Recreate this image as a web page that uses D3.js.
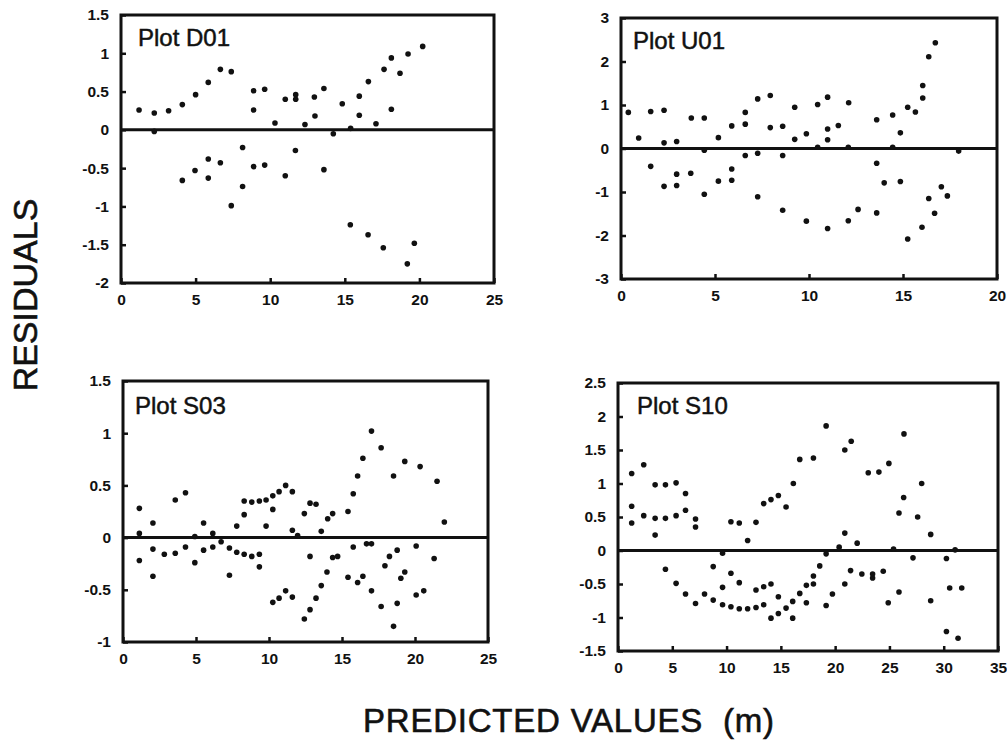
<!DOCTYPE html>
<html>
<head>
<meta charset="utf-8">
<script src="https://cdn.jsdelivr.net/npm/d3@7"></script>
<style>
  body { margin: 0; background: #fff; }
  svg { display: block; font-family: "Liberation Sans", Arial, sans-serif; }
</style>
</head>
<body>
<svg></svg>
<script>
const svgWidth = 1007;
const svgHeight = 749;

// Plot D01
const d01X = [1.21, 2.23, 3.19, 4.11, 5.0, 5.85, 6.66, 7.39, 8.89, 8.89, 9.63, 10.32, 11.01, 11.71, 11.71, 12.33,
  12.96, 13.0, 13.6, 14.83, 15.39, 15.97, 15.97, 16.58, 17.09, 17.63, 18.12, 18.12, 18.7, 19.24, 20.22,
  2.23, 14.23,
  4.11, 4.96, 5.85, 5.85, 6.66, 7.39, 8.15, 8.15, 8.89, 9.63, 11.01, 11.69, 13.6, 15.37, 16.56, 17.58, 19.66, 19.19];
const d01Y = [0.26, 0.22, 0.25, 0.33, 0.46, 0.62, 0.79, 0.76, 0.51, 0.26, 0.53, 0.09, 0.40, 0.46, 0.40, 0.07,
  0.43, 0.18, 0.54, 0.34, 0.02, 0.44, 0.19, 0.63, 0.08, 0.79, 0.94, 0.27, 0.74, 0.99, 1.09,
  -0.02, -0.05,
  -0.66, -0.53, -0.38, -0.63, -0.43, -0.99, -0.23, -0.74, -0.48, -0.46, -0.60, -0.27, -0.52, -1.24, -1.37, -1.54, -1.48, -1.75];

// Plot U01
const u01X = [0.39, 0.94, 1.58, 1.58, 2.29, 2.29, 2.29, 2.96, 2.96, 2.96, 3.74, 3.71, 4.43, 4.43, 4.43, 5.18, 5.18,
  5.89, 5.89, 5.89, 6.61, 6.61, 6.61, 7.27, 7.27, 7.27, 7.94, 7.94, 8.6, 8.6, 8.6, 9.24, 9.24, 9.86, 9.86,
  10.46, 10.46, 10.99, 10.99, 10.99, 10.99, 11.56, 12.11, 12.09, 12.09, 12.61, 13.6, 13.6, 13.6, 14.0,
  14.45, 14.45, 14.86, 14.86, 15.25, 15.25, 15.66, 16.05, 16.05, 16.01, 16.37, 16.37, 16.72, 16.68, 17.04, 17.36, 17.96];
const u01Y = [0.83, 0.24, 0.85, -0.41, 0.88, 0.13, -0.87, 0.16, -0.59, -0.85, 0.70, -0.57, 0.70, -0.04, -1.05, 0.25, -0.75,
  0.52, -0.47, -0.73, 0.83, 0.56, -0.16, 1.14, -0.11, -1.11, 1.22, 0.48, 0.51, -0.16, -1.42, 0.95, 0.21, 0.34, -1.67,
  1.01, 0.03, 1.18, 0.45, 0.20, -1.84, 0.53, 1.05, 0.03, -1.66, -1.40, 0.66, -0.34, -1.48, -0.79,
  0.77, 0.03, 0.36, -0.76, 0.95, -2.08, 0.84, 1.45, 1.16, -1.81, 2.11, -1.15, 2.43, -1.49, -0.88, -1.09, -0.06];

// Plot S03
const s03X = [1.12, 1.12, 1.12, 2.05, 2.05, 2.05, 2.83, 3.58, 3.58, 4.28, 4.28, 4.92, 4.92, 5.52, 5.52, 6.15, 6.15,
  6.72, 7.29, 7.29, 7.79, 7.79, 8.3, 8.3, 8.3, 8.82, 8.82, 9.34, 9.34, 9.34, 9.8, 9.8, 10.26, 10.26, 10.26,
  10.69, 10.69, 11.14, 11.14, 11.6, 11.6, 11.6, 11.96, 12.42, 12.42, 12.81, 12.81, 12.81, 13.22, 13.22,
  13.58, 13.58, 13.97, 14.02, 14.36, 14.36, 14.7, 15.41, 15.41, 15.77, 15.77, 16.07, 16.07, 16.43, 16.43,
  16.68, 17.02, 17.02, 17.02, 17.68, 17.68, 17.94, 18.25, 18.53, 18.53, 18.78, 18.78, 19.03, 19.3, 19.3,
  20.08, 20.08, 20.35, 20.6, 21.31, 21.51, 22.01];
const s03Y = [0.28, 0.04, -0.22, 0.14, -0.11, -0.37, -0.16, 0.36, -0.15, 0.43, -0.09, 0.01, -0.24, 0.14, -0.12, 0.04, -0.09,
  -0.04, -0.10, -0.36, 0.11, -0.14, 0.35, 0.22, -0.16, 0.34, -0.18, 0.35, -0.16, -0.28, 0.36, 0.11, 0.40, 0.27, -0.62,
  0.44, -0.58, 0.50, -0.51, 0.44, 0.07, -0.57, 0.02, 0.23, -0.78, 0.33, -0.18, -0.69, 0.32, -0.58,
  0.06, -0.46, -0.33, 0.18, 0.23, -0.19, -0.18, 0.25, -0.38, 0.42, -0.09, 0.59, -0.43, 0.76, -0.37,
  -0.06, 1.02, -0.06, -0.51, 0.86, -0.66, -0.27, -0.18, 0.59, -0.85, -0.12, -0.63, -0.39, 0.73, -0.33,
  -0.08, -0.55, 0.68, -0.51, -0.20, 0.54, 0.15];

// Plot S10
const s10X = [1.26, 1.26, 1.26, 2.37, 2.37, 3.42, 3.42, 3.42, 4.37, 4.37, 4.37, 5.35, 5.35, 5.35, 6.22, 6.22, 6.22,
  7.14, 7.14, 7.14, 7.97, 8.77, 8.77, 9.63, 9.63, 9.63, 10.4, 10.4, 10.4, 11.17, 11.17, 11.17, 11.94, 11.94,
  12.71, 12.71, 12.71, 13.42, 13.42, 13.42, 14.09, 14.09, 14.09, 14.77, 14.77, 14.77, 15.48, 15.48,
  16.15, 16.09, 16.09, 16.74, 16.74, 17.35, 17.35, 18.0, 18.0, 18.0, 18.58, 19.17, 19.17, 19.17, 19.75,
  20.37, 20.89, 20.89, 20.89, 21.48, 21.42, 22.03, 22.46, 23.05, 23.45, 23.45, 24.03, 24.43, 24.95, 24.89,
  25.38, 25.88, 25.88, 26.34, 26.31, 27.17, 27.6, 27.97, 28.8, 28.8, 30.25, 30.25, 30.55, 31.05, 31.32, 31.66];
const s10Y = [1.15, 0.66, 0.41, 1.28, 0.52, 0.98, 0.48, 0.23, 0.98, 0.48, -0.28, 1.01, 0.52, -0.49, 0.85, 0.60, -0.65,
  0.47, 0.35, -0.79, -0.65, -0.24, -0.74, -0.04, -0.55, -0.81, 0.43, -0.34, -0.84, 0.41, -0.48, -0.87, 0.15, -0.87,
  0.42, -0.59, -0.85, 0.70, -0.54, -0.81, 0.76, -0.50, -1.01, 0.82, -0.69, -0.94, 0.65, -0.86,
  1.00, -0.76, -1.01, 1.36, -0.64, -0.52, -0.78, 1.38, -0.50, -0.38, -0.23, 1.86, -0.05, -0.82, -0.65,
  0.05, 1.50, 0.26, -0.50, 1.63, -0.30, 0.11, -0.35, 1.16, -0.35, -0.41, 1.17, -0.31, 1.30, -0.78,
  0.02, 0.56, -0.62, 1.74, 0.79, -0.11, 0.50, 1.00, 0.24, -0.75, -0.12, -1.21, -0.56, 0.01, -1.31, -0.56];

// tick values
const d01XTicks = [0, 5, 10, 15, 20, 25];
const d01YTicks = [1.5, 1, 0.5, 0, -0.5, -1, -1.5, -2];
const u01XTicks = [0, 5, 10, 15, 20];
const u01YTicks = [3, 2, 1, 0, -1, -2, -3];
const s03XTicks = [0, 5, 10, 15, 20, 25];
const s03YTicks = [1.5, 1, 0.5, 0, -0.5, -1];
const s10XTicks = [0, 5, 10, 15, 20, 25, 30, 35];
const s10YTicks = [2.5, 2, 1.5, 1, 0.5, 0, -0.5, -1, -1.5];

const svg = d3.select("svg")
  .attr("width", svgWidth)
  .attr("height", svgHeight);

const panels = [
  { name: "Plot D01", xs: d01X, ys: d01Y, xt: d01XTicks, yt: d01YTicks,
    left: 121, right: 494, top: 15, bottom: 283, lx: 17, ly: 31 },
  { name: "Plot U01", xs: u01X, ys: u01Y, xt: u01XTicks, yt: u01YTicks,
    left: 621, right: 997, top: 18, bottom: 279, lx: 12, ly: 31 },
  { name: "Plot S03", xs: s03X, ys: s03Y, xt: s03XTicks, yt: s03YTicks,
    left: 123, right: 488, top: 381, bottom: 642, lx: 12, ly: 33 },
  { name: "Plot S10", xs: s10X, ys: s10Y, xt: s10XTicks, yt: s10YTicks,
    left: 618, right: 998, top: 383, bottom: 651, lx: 19, ly: 31 }
];

const fmt = function(v) { return String(v); }; // plain hyphen, like the scan

panels.forEach(function(p) {
  const x = d3.scaleLinear()
    .domain([p.xt[0], p.xt[p.xt.length - 1]])
    .range([p.left, p.right]);
  const y = d3.scaleLinear()
    .domain([p.yt[p.yt.length - 1], p.yt[0]])
    .range([p.bottom, p.top]);

  const g = svg.append("g");

  // short inward ticks
  const xAxis = d3.axisBottom(x).tickValues(p.xt).tickFormat(fmt).tickSizeInner(-5).tickSizeOuter(0).tickPadding(11);
  const yAxis = d3.axisLeft(y).tickValues(p.yt).tickFormat(fmt).tickSizeInner(-5).tickSizeOuter(0).tickPadding(12);

  g.append("g")
    .attr("transform", "translate(0," + p.bottom + ")")
    .call(xAxis)
    .call(function(a) {
      a.select(".domain").remove();
      a.selectAll("line").attr("stroke", "#111").attr("stroke-width", 2.5);
      a.selectAll("text").attr("font-size", 15.5).attr("font-weight", "bold").attr("fill", "#111");
    });

  g.append("g")
    .attr("transform", "translate(" + p.left + ",0)")
    .call(yAxis)
    .call(function(a) {
      a.select(".domain").remove();
      a.selectAll("line").attr("stroke", "#111").attr("stroke-width", 2.5);
      a.selectAll("text").attr("font-size", 15.5).attr("font-weight", "bold").attr("fill", "#111");
    });

  g.append("rect")
    .attr("x", p.left)
    .attr("y", p.top)
    .attr("width", p.right - p.left)
    .attr("height", p.bottom - p.top)
    .attr("fill", "none")
    .attr("stroke", "#111")
    .attr("stroke-width", 3);

  // zero line
  g.append("line")
    .attr("x1", p.left).attr("x2", p.right)
    .attr("y1", y(0)).attr("y2", y(0))
    .attr("stroke", "#111")
    .attr("stroke-width", 3);

  g.selectAll("circle")
    .data(d3.zip(p.xs, p.ys))
    .enter()
    .append("circle")
    .attr("cx", function(d) { return x(d[0]); })
    .attr("cy", function(d) { return y(d[1]); })
    .attr("r", 2.8)
    .attr("fill", "#111");

  g.append("text")
    .attr("x", p.left + p.lx)
    .attr("y", p.top + p.ly)
    .attr("font-size", 24)
    .attr("fill", "#111")
    .attr("stroke", "#111")
    .attr("stroke-width", 0.5)
    .text(p.name);
});

svg.append("text")
  .attr("transform", "translate(37,295) rotate(-90)")
  .attr("text-anchor", "middle")
  .attr("font-size", 34)
  .attr("fill", "#111")
  .attr("stroke", "#111")
  .attr("stroke-width", 0.6)
  .text("RESIDUALS");

svg.append("text")
  .attr("x", 363)
  .attr("y", 732)
  .attr("font-size", 33)
  .attr("textLength", 411)
  .attr("fill", "#111")
  .attr("stroke", "#111")
  .attr("stroke-width", 0.6)
  .style("white-space", "pre")
  .text("PREDICTED VALUES  (m)");
</script>
</body>
</html>
